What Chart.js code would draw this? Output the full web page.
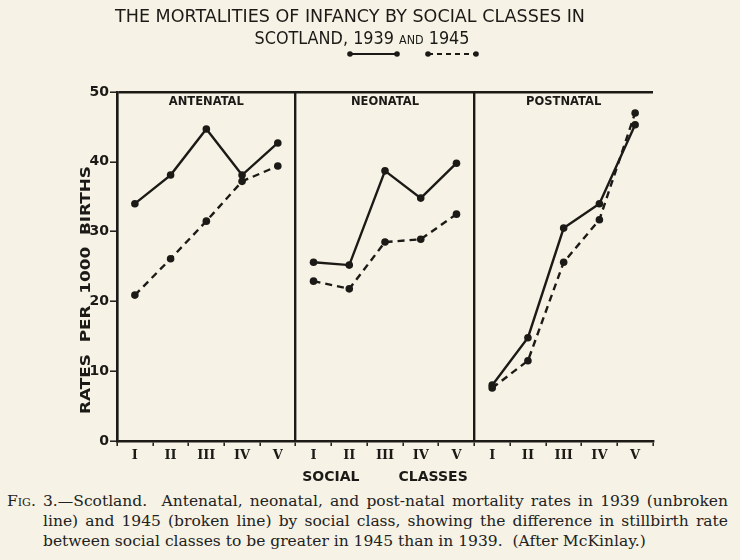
<!DOCTYPE html>
<html>
<head>
<meta charset="utf-8">
<script src="https://cdn.jsdelivr.net/npm/chart.js@4.4.1/dist/chart.umd.min.js"></script>
<style>
  body { margin: 0; background: #f6f2e5; }
  #wrap { position: relative; width: 740px; height: 560px; }
  #caption { position: absolute; left: 0; top: 491px; width: 740px; font: 15.5px/20px "DejaVu Serif", serif; color: #222; }
  .l { position: absolute; white-space: nowrap; }
  .j { text-align: justify; text-align-last: justify; white-space: normal; }
  .sc { font-variant: small-caps; }
</style>
</head>
<body>
<div id="wrap">
  <canvas id="chart" width="740" height="490"></canvas>
  <div id="caption">
    <div class="l j" style="left:7px;top:0;width:721px"><span class="sc">Fig.</span> 3.—Scotland.&nbsp; Antenatal, neonatal, and post-natal mortality rates in 1939 (unbroken</div>
    <div class="l j" style="left:43px;top:20px;width:685px">line) and 1945 (broken line) by social class, showing the difference in stillbirth rate</div>
    <div class="l" style="left:43px;top:40px">between social classes to be greater in 1945 than in 1939.&nbsp; (After McKinlay.)</div>
  </div>
</div>
<script>
const classes = ["I", "II", "III", "IV", "V"];
const panels = ["ANTENATAL", "NEONATAL", "POSTNATAL"];
const yTicks = [0, 10, 20, 30, 40, 50];

// rates per 1000 births
const antenatal1939 = [34.0, 38.1, 44.7, 38.1, 42.7];
const antenatal1945 = [20.9, 26.1, 31.5, 37.2, 39.4];
const neonatal1939 = [25.6, 25.2, 38.7, 34.8, 39.8];
const neonatal1945 = [22.9, 21.8, 28.5, 28.9, 32.5];
const postnatal1939 = [8.0, 14.8, 30.5, 34.0, 45.3];
const postnatal1945 = [7.6, 11.5, 25.6, 31.7, 47.0];

const ink = "#1b1a17";
const labels = panels.flatMap(() => classes);

// put a panel's 5 values in its slot of the 15 categories
function place(values, panel) {
  const out = Array(labels.length).fill(null);
  values.forEach((v, i) => { out[panel * classes.length + i] = v; });
  return out;
}

const series = [
  [antenatal1939, 0, false], [antenatal1945, 0, true],
  [neonatal1939, 1, false], [neonatal1945, 1, true],
  [postnatal1939, 2, false], [postnatal1945, 2, true]
];

function fitLine(ctx, parts, cx, baseY, width, weight) {
  const widths = parts.map(p => {
    ctx.font = `${weight} ${p[1]}px "DejaVu Sans"`;
    return ctx.measureText(p[0]).width;
  });
  const total = widths.reduce((a, b) => a + b, 0);
  ctx.save();
  ctx.translate(cx, baseY);
  ctx.scale(width / total, 1);
  ctx.textAlign = "left";
  ctx.textBaseline = "alphabetic";
  let x0 = -total / 2;
  parts.forEach((p, i) => {
    ctx.font = `${weight} ${p[1]}px "DejaVu Sans"`;
    ctx.fillText(p[0], x0, 0);
    x0 += widths[i];
  });
  ctx.restore();
}

function legendKey(ctx, x1, x2, y, dash) {
  ctx.save();
  ctx.strokeStyle = ink;
  ctx.lineWidth = 2;
  ctx.setLineDash(dash);
  ctx.beginPath();
  ctx.moveTo(x1, y);
  ctx.lineTo(x2, y);
  ctx.stroke();
  [x1, x2].forEach(px => {
    ctx.beginPath();
    ctx.arc(px, y, 2.8, 0, Math.PI * 2);
    ctx.fill();
  });
  ctx.restore();
}

const decor = {
  id: "decor",
  afterDraw(chart) {
    const { ctx, scales: { x } } = chart;
    ctx.save();
    ctx.fillStyle = ink;
    fitLine(ctx, [["THE MORTALITIES OF INFANCY BY SOCIAL CLASSES IN", 18]], 350, 22, 470, "");
    fitLine(ctx, [["SCOTLAND, 1939 ", 18], ["AND", 12.5], [" 1945", 18]], 362, 44, 215, "");
    legendKey(ctx, 350, 397, 54, []);
    legendKey(ctx, 428, 476, 54, [5, 4]);

    ctx.font = 'bold 11.5px "DejaVu Sans"';
    ctx.textAlign = "center";
    ctx.textBaseline = "alphabetic";
    panels.forEach((p, i) => {
      ctx.fillText(p, x.getPixelForValue(i * classes.length + 2), 105);
    });

    ctx.save();
    ctx.translate(90, 290);
    ctx.rotate(-Math.PI / 2);
    fitLine(ctx, [["RATES  PER  1000  BIRTHS", 14]], 0, 0, 248, "bold");
    ctx.restore();
    ctx.restore();
  }
};

new Chart(document.getElementById("chart"), {
  type: "line",
  data: {
    labels: labels,
    datasets: series.map(([vals, panel, dashed]) => ({
      data: place(vals, panel),
      borderColor: ink,
      borderWidth: 2.4,
      borderDash: dashed ? [7, 5] : [],
      pointRadius: 3.8,
      pointBackgroundColor: ink,
      pointBorderWidth: 0,
      tension: 0,
      spanGaps: false
    }))
  },
  options: {
    responsive: false,
    animation: false,
    layout: { padding: { left: 0, top: 92, right: 87, bottom: 4 } },
    plugins: { legend: { display: false }, tooltip: { enabled: false } },
    scales: {
      x: {
        type: "category",
        offset: true,
        grid: {
          offset: true,
          color: c => (c.index % classes.length === 0 ? ink : "transparent"),
          lineWidth: 2.4,
          tickLength: 5,
          tickColor: ink,
          tickWidth: 1.5
        },
        border: { color: ink, width: 2.4 },
        ticks: {
          autoSkip: false,
          maxRotation: 0,
          padding: 2,
          color: ink,
          font: { family: "DejaVu Serif", size: 13, weight: "bold" }
        },
        title: {
          display: true,
          text: "SOCIAL        CLASSES",
          color: ink,
          padding: 0,
          font: { family: "DejaVu Sans", size: 14, weight: "bold" }
        },
        afterFit: s => { s.height = 45; }
      },
      y: {
        min: yTicks[0],
        max: yTicks[yTicks.length - 1],
        afterBuildTicks: s => { s.ticks = yTicks.map(v => ({ value: v })); },
        grid: {
          color: c => (c.tick && c.tick.value === 50 ? ink : "transparent"),
          lineWidth: 2.4,
          tickLength: 7,
          tickColor: ink,
          tickWidth: 1.5
        },
        border: { color: ink, width: 2.4 },
        ticks: {
          padding: 1,
          color: ink,
          font: { family: "DejaVu Sans", size: 14, weight: "bold" }
        },
        afterFit: s => { s.width = 117; }
      }
    }
  },
  plugins: [decor]
});
</script>
</body>
</html>
